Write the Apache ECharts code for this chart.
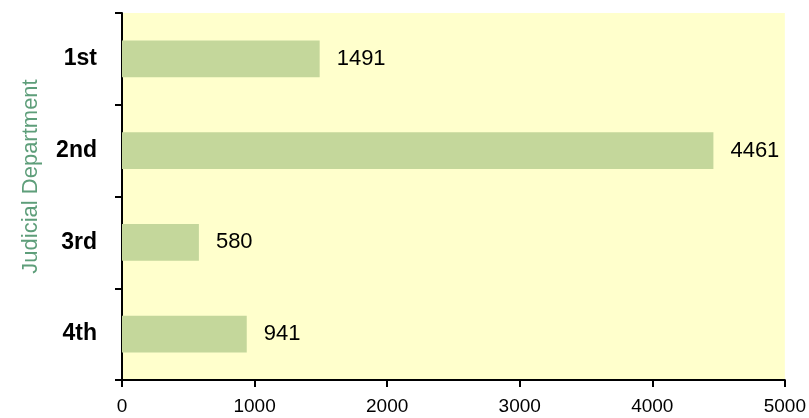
<!DOCTYPE html>
<html>
<head>
<meta charset="utf-8">
<script src="https://cdn.jsdelivr.net/npm/echarts@6/dist/echarts.min.js"></script>
<style>
  html, body { margin: 0; padding: 0; background: #ffffff; }
  #chart { width: 809px; height: 418px; }
</style>
</head>
<body>
<div id="chart"></div>
<script>
// 数据
var departments = ['1st', '2nd', '3rd', '4th'];
var caseCounts = [1491, 4461, 580, 941];
var xTicks = [0, 1000, 2000, 3000, 4000, 5000];

var myChart = echarts.init(document.getElementById('chart'));

var option = {
  animation: false,
  grid: {
    left: 122, right: 24, top: 13, bottom: 38,
    show: true,
    backgroundColor: '#FFFFCC',
    borderWidth: 0
  },
  xAxis: {
    type: 'value',
    min: xTicks[0],
    max: xTicks[xTicks.length - 1],
    interval: 1000,
    axisLine: { show: true, lineStyle: { color: '#000', width: 2 } },
    axisTick: { show: true, length: 7, lineStyle: { color: '#000', width: 2 } },
    splitLine: { show: false },
    axisLabel: {
      color: '#000', fontSize: 19, fontFamily: 'Liberation Sans', margin: 17,
      formatter: function (v) { return String(v); }
    }
  },
  yAxis: {
    type: 'category',
    data: departments,
    inverse: true,
    name: 'Judicial Department',
    nameLocation: 'middle',
    nameGap: 80,
    nameTextStyle: {
      color: '#5E9E7A', fontSize: 22, fontFamily: 'Liberation Sans',
      padding: [0, 0, 0, 40]
    },
    axisLine: { show: true, lineStyle: { color: '#000', width: 2 } },
    axisTick: { show: true, length: 7, lineStyle: { color: '#000', width: 2 } },
    axisLabel: { color: '#000', fontSize: 23, fontWeight: 'bold', fontFamily: 'Liberation Sans', margin: 25 }
  },
  series: [{
    type: 'bar',
    data: caseCounts,
    barWidth: '40%',
    itemStyle: { color: '#C4D79B' },
    label: {
      show: true,
      position: 'right',
      distance: 17,
      color: '#000',
      fontSize: 22,
      fontFamily: 'Liberation Sans'
    }
  }]
};

myChart.setOption(option, true);
</script>
</body>
</html>
